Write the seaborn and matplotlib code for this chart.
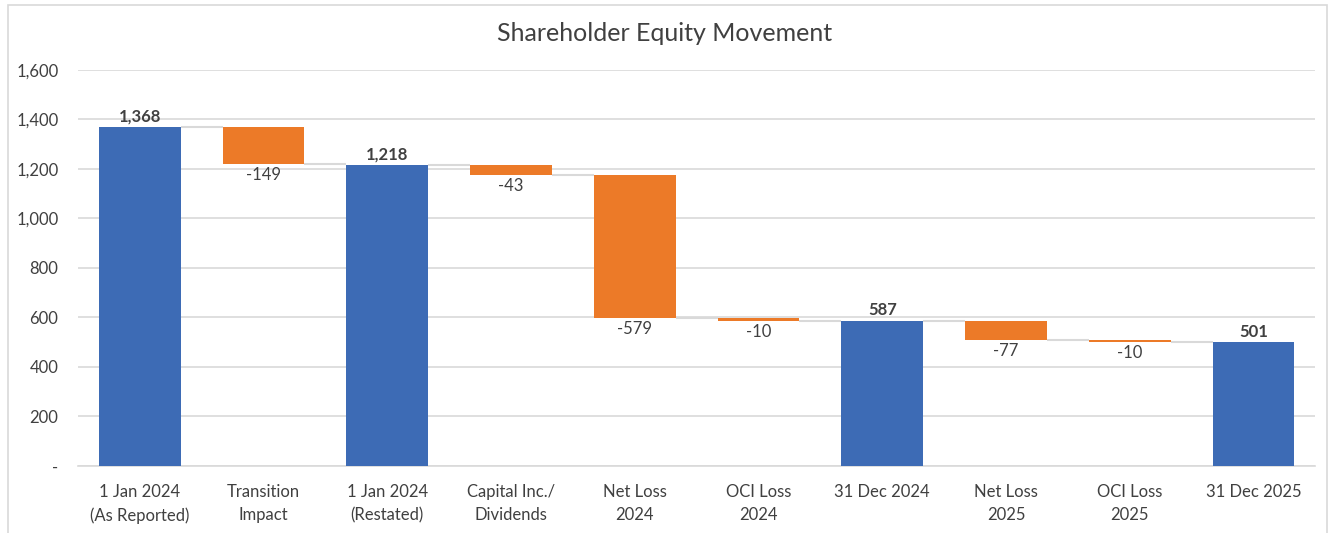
import matplotlib
matplotlib.use("Agg")
import matplotlib.pyplot as plt
import seaborn as sns
import numpy as np
from matplotlib.patches import Rectangle
from matplotlib.ticker import FuncFormatter

categories = ["1 Jan 2024\n(As Reported)", "Transition\nImpact", "1 Jan 2024\n(Restated)",
              "Capital Inc./\nDividends", "Net Loss\n2024", "OCI Loss\n2024", "31 Dec 2024",
              "Net Loss\n2025", "OCI Loss\n2025", "31 Dec 2025"]
values = [1368, -149, 1218, -43, -579, -10, 587, -77, -10, 501]
is_total = [True, False, True, False, False, False, True, False, False, True]
y_ticks = [0, 200, 400, 600, 800, 1000, 1200, 1400, 1600]

BLUE = "#3D6BB5"
ORANGE = "#EC7A28"
GRID = "#D9D9D9"
TXT = "#404040"

# compute bottoms / heights for waterfall
bottoms, heights, levels = [], [], []
running = 0
for v, t in zip(values, is_total):
    if t:
        bottoms.append(0); heights.append(v); running = v
    else:
        new = running + v
        bottoms.append(min(running, new)); heights.append(abs(v)); running = new
    levels.append(running)

sns.set_style("white")
plt.rcParams['font.family'] = ['Lato', 'DejaVu Sans']

fig = plt.figure(figsize=(13.3, 5.33), dpi=100)
ax = fig.add_axes([0.0586, 0.1257, 0.9304, 0.743])

sns.barplot(x=list(range(len(categories))), y=heights, color=BLUE, width=0.66,
            saturation=1, ax=ax, zorder=3)
for i, p in enumerate(ax.patches):
    p.set_y(bottoms[i])
    p.set_height(heights[i])
    p.set_facecolor(BLUE if is_total[i] else ORANGE)
    p.set_edgecolor("none")

# connectors
w = 0.33
for i in range(len(values) - 1):
    ax.plot([i + w, i + 1 - w], [levels[i], levels[i]], color=GRID, lw=1.5, zorder=2,
            solid_capstyle="butt")

# labels
for i, (v, t) in enumerate(zip(values, is_total)):
    if t:
        ax.text(i, bottoms[i] + heights[i] + 10, f"{v:,}", ha="center", va="bottom",
                fontsize=12, fontweight="bold", color=TXT)
    else:
        ax.text(i, bottoms[i] - 12, f"{v:,}", ha="center", va="top",
                fontsize=12, color=TXT)

ax.set_ylim(0, 1600)
ax.set_xlim(-0.5, len(categories) - 0.5)
ax.set_yticks(y_ticks)
ax.yaxis.set_major_formatter(FuncFormatter(lambda x, _: "-" if x == 0 else f"{int(x):,}"))
ax.set_xticks(range(len(categories)))
ax.set_xticklabels(categories, fontsize=12, color=TXT, linespacing=1.55)
ax.tick_params(axis="y", labelsize=12, labelcolor=TXT, length=0, pad=14)
ax.tick_params(axis="x", length=0, pad=13)
ax.grid(axis="y", color=GRID, lw=1.2, zorder=0)
ax.set_axisbelow(True)
for s in ["top", "right", "left"]:
    ax.spines[s].set_visible(False)
ax.spines["bottom"].set_color(GRID)
ax.spines["bottom"].set_linewidth(1.2)

fig.text(0.5, 0.937, "Shareholder Equity Movement", ha="center", va="center",
         fontsize=18, color=TXT)

fig.patches.append(Rectangle((0.006, -0.01), 0.992, 1.0, transform=fig.transFigure,
                             fill=False, edgecolor="#D9D9D9", lw=1.2))

fig.savefig("out.png", dpi=100)
